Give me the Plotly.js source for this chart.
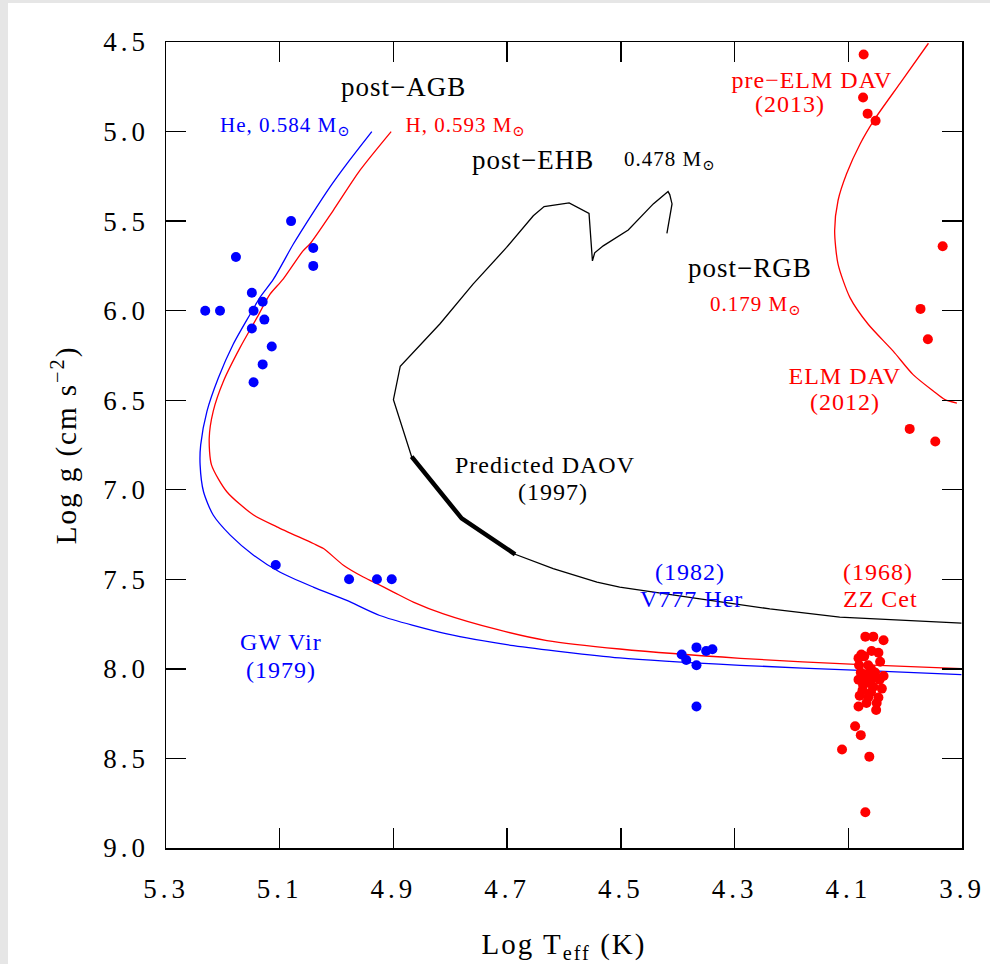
<!DOCTYPE html>
<html>
<head>
<meta charset="utf-8">
<script src="https://cdn.plot.ly/plotly-3.0.1.min.js"></script>
<style>
  html, body { margin: 0; padding: 0; background: #e6e6e6; }
  #plot { position: absolute; left: 8px; top: 3px; width: 982px; height: 961px; background: #fff; }
  #plot .xtick text, #plot .ytick text { letter-spacing: 4px; }
  #plot .annotation-text { letter-spacing: 1px; }
  #plot .g-xtitle text, #plot .g-ytitle text { letter-spacing: 2px; }
</style>
</head>
<body>
<div id="plot"></div>
<script>
// Pulsating stars: GW Vir (He-rich pre-white dwarfs)
const gwVirTeff = [5.231, 5.205, 5.177, 5.080, 5.041, 5.041, 5.149, 5.130, 5.146, 5.127, 5.149, 5.114, 5.130, 5.146, 5.107, 4.978, 4.929, 4.903];
const gwVirLogg = [6.00, 6.00, 5.70, 5.50, 5.65, 5.75, 5.90, 5.95, 6.00, 6.05, 6.10, 6.20, 6.30, 6.40, 7.42, 7.50, 7.50, 7.50];

// V777 Her (DBV)
const v777Teff = [4.393, 4.385, 4.367, 4.367, 4.350, 4.339, 4.367];
const v777Logg = [7.92, 7.95, 7.88, 7.98, 7.90, 7.89, 8.21];

// ZZ Cet (DAV)
const zzCetTeff = [4.070, 4.056, 4.038, 4.077, 4.059, 4.047, 4.082, 4.044, 4.081, 4.065,
                   4.053, 4.038, 4.082, 4.068, 4.062, 4.074, 4.056, 4.041, 4.080, 4.065,
                   4.047, 4.068, 4.050, 4.082, 4.051, 4.088, 4.078, 4.111, 4.063, 4.070,
                   4.072, 4.060, 4.070, 4.058, 4.075, 4.060, 4.045, 4.078];
const zzCetLogg = [7.82, 7.82, 7.84, 7.92, 7.90, 7.91, 7.94, 7.96, 7.98, 7.98,
                   8.02, 8.04, 8.06, 8.06, 8.08, 8.09, 8.10, 8.11, 8.15, 8.16,
                   8.16, 8.19, 8.19, 8.21, 8.23, 8.32, 8.37, 8.45, 8.49, 8.80,
                   7.93, 8.00, 8.03, 8.05, 8.12, 8.13, 8.06, 8.02];

// Extremely low-mass DAVs (pre-ELM and ELM)
const elmTeff = [4.073, 4.074, 4.066, 4.052, 3.934, 3.973, 3.960, 3.992, 3.947];
const elmLogg = [4.57, 4.81, 4.90, 4.94, 5.64, 5.99, 6.16, 6.66, 6.73];

// Evolutionary tracks
const heTrackTeff = [4.938, 4.982, 5.012, 5.041, 5.076, 5.111, 5.135, 5.152, 5.182, 5.208,
                     5.228, 5.239, 5.240, 5.234, 5.217, 5.187, 5.146, 5.100, 5.041, 4.982,
                     4.924, 4.806, 4.689, 4.502, 4.290, 4.068, 3.901];
const heTrackLogg = [5.000, 5.180, 5.311, 5.451, 5.628, 5.824, 5.927, 6.020, 6.189, 6.376,
                     6.562, 6.749, 6.861, 7.011, 7.141, 7.253, 7.365, 7.459, 7.543, 7.618,
                     7.702, 7.805, 7.870, 7.939, 7.980, 8.010, 8.032];

const hTrackTeff = [4.904, 4.959, 5.006, 5.047, 5.059, 5.094, 5.117, 5.140, 5.170, 5.199,
                    5.217, 5.224, 5.220, 5.193, 5.146, 5.105, 5.041, 5.023, 4.988, 4.953,
                    4.935, 4.900, 4.865, 4.812, 4.718, 4.630, 4.502, 4.290, 4.068, 3.901];
const hTrackLogg = [5.000, 5.217, 5.441, 5.628, 5.666, 5.824, 5.908, 6.039, 6.208, 6.394,
                    6.562, 6.712, 6.861, 7.011, 7.141, 7.207, 7.300, 7.328, 7.421, 7.487,
                    7.515, 7.571, 7.627, 7.693, 7.780, 7.842, 7.889, 7.941, 7.978, 7.999];

const ehbTrackTeff = [4.419, 4.410, 4.414, 4.417, 4.443, 4.487, 4.531, 4.546, 4.550, 4.556,
                      4.591, 4.635, 4.654, 4.701, 4.760, 4.818, 4.888, 4.900, 4.868, 4.780,
                      4.686, 4.648, 4.619, 4.542, 4.502, 4.361, 4.238, 4.115, 3.901];
const ehbTrackLogg = [5.569, 5.404, 5.352, 5.335, 5.404, 5.550, 5.638, 5.677, 5.722, 5.457,
                      5.398, 5.419, 5.470, 5.647, 5.852, 6.073, 6.310, 6.497, 6.815, 7.160,
                      7.360, 7.403, 7.440, 7.515, 7.543, 7.609, 7.665, 7.711, 7.745];

// Predicted DAOV instability strip along the post-EHB track
const daovTeff = [4.868, 4.780, 4.686];
const daovLogg = [6.815, 7.160, 7.360];

const rgbTrackTeff = [3.959, 4.009, 4.053, 4.079, 4.103, 4.118, 4.124, 4.118, 4.097, 4.065,
                      4.021, 3.986, 3.950, 3.930, 3.909];
const rgbTrackLogg = [4.507, 4.731, 4.928, 5.068, 5.236, 5.385, 5.554, 5.740, 5.927, 6.076,
                      6.226, 6.357, 6.450, 6.497, 6.516];

const xTicks = [5.3, 5.1, 4.9, 4.7, 4.5, 4.3, 4.1, 3.9];
const yTicks = [4.5, 5.0, 5.5, 6.0, 6.5, 7.0, 7.5, 8.0, 8.5, 9.0];

const BLUE = '#0000ff', RED = '#ff0000', BLACK = '#000000';
const FONT = 'Liberation Serif, DejaVu Serif, serif';

function line(x, y, color, width, smooth) {
  const ln = { color: color, width: width };
  if (smooth) { ln.shape = 'spline'; ln.smoothing = 0.7; }
  return { type: 'scatter', mode: 'lines', x: x, y: y, line: ln,
           hoverinfo: 'skip', showlegend: false };
}
function dots(x, y, color) {
  return { type: 'scatter', mode: 'markers', x: x, y: y,
           marker: { color: color, size: 10, line: { width: 0 } }, hoverinfo: 'skip', showlegend: false };
}

const traces = [
  line(heTrackTeff, heTrackLogg, BLUE, 1.3, true),
  line(hTrackTeff, hTrackLogg, RED, 1.3, true),
  line(ehbTrackTeff, ehbTrackLogg, BLACK, 1.3, false),
  line(daovTeff, daovLogg, BLACK, 4.5, false),
  line(rgbTrackTeff, rgbTrackLogg, RED, 1.3, true),
  dots(gwVirTeff, gwVirLogg, BLUE),
  dots(v777Teff, v777Logg, BLUE),
  dots(zzCetTeff, zzCetLogg, RED),
  dots(elmTeff, elmLogg, RED)
];

function label(text, x, y, color, size) {
  return { text: text, x: x, y: y, xref: 'x', yref: 'y', showarrow: false,
           xanchor: 'center', yanchor: 'middle', font: { family: FONT, size: size, color: color } };
}
const SUN = 'M<sub>\u2299</sub>';
const annotations = [
  label('post\u2212AGB', 4.883, 4.752, BLACK, 27),
  label('He, 0.584 ' + SUN, 5.091, 4.971, BLUE, 21),
  label('H, 0.593 ' + SUN, 4.774, 4.971, RED, 21),
  label('post\u2212EHB', 4.655, 5.161, BLACK, 27),
  label('0.478 ' + SUN, 4.414, 5.161, BLACK, 21),
  label('post\u2212RGB', 4.273, 5.761, BLACK, 27),
  label('0.179 ' + SUN, 4.262, 5.968, RED, 21),
  label('pre\u2212ELM DAV', 4.164, 4.713, RED, 24),
  label('(2013)', 4.203, 4.847, RED, 24),
  label('ELM DAV', 4.106, 6.366, RED, 24),
  label('(2012)', 4.106, 6.512, RED, 24),
  label('Predicted DAOV', 4.632, 6.859, BLACK, 24),
  label('(1997)', 4.619, 7.011, BLACK, 24),
  label('(1982)', 4.378, 7.459, BLUE, 24),
  label('V777 Her', 4.375, 7.610, BLUE, 24),
  label('(1968)', 4.048, 7.459, RED, 24),
  label('ZZ Cet', 4.044, 7.610, RED, 24),
  label('GW Vir', 5.098, 7.851, BLUE, 24),
  label('(1979)', 5.098, 8.008, BLUE, 24)
];

const axisCommon = {
  showgrid: false, zeroline: false, showline: true, linecolor: BLACK, linewidth: 1.5,
  mirror: 'ticks', ticks: 'inside', ticklen: 20, tickwidth: 1.3, tickcolor: BLACK,
  tickfont: { family: FONT, size: 27, color: BLACK }
};

const layout = {
  width: 982, height: 961,
  margin: { l: 158, r: 28, t: 39, b: 116 },
  paper_bgcolor: '#ffffff', plot_bgcolor: '#ffffff',
  showlegend: false,
  xaxis: Object.assign({}, axisCommon, {
    range: [5.3, 3.9], tickvals: xTicks, ticktext: xTicks.map(v => v.toFixed(1)),
    ticklabelstandoff: 16,
    title: { text: 'Log T<sub>eff</sub> (K)', font: { family: FONT, size: 29, color: BLACK }, standoff: 38 }
  }),
  yaxis: Object.assign({}, axisCommon, {
    range: [9.0, 4.5], tickvals: yTicks, ticktext: yTicks.map(v => v.toFixed(1)),
    ticklabelstandoff: 10,
    title: { text: 'Log g (cm s<sup>\u22122</sup>)', font: { family: FONT, size: 29, color: BLACK }, standoff: 30 }
  }),
  annotations: annotations
};

Plotly.newPlot('plot', traces, layout, { staticPlot: true, displayModeBar: false });
</script>
</body>
</html>
